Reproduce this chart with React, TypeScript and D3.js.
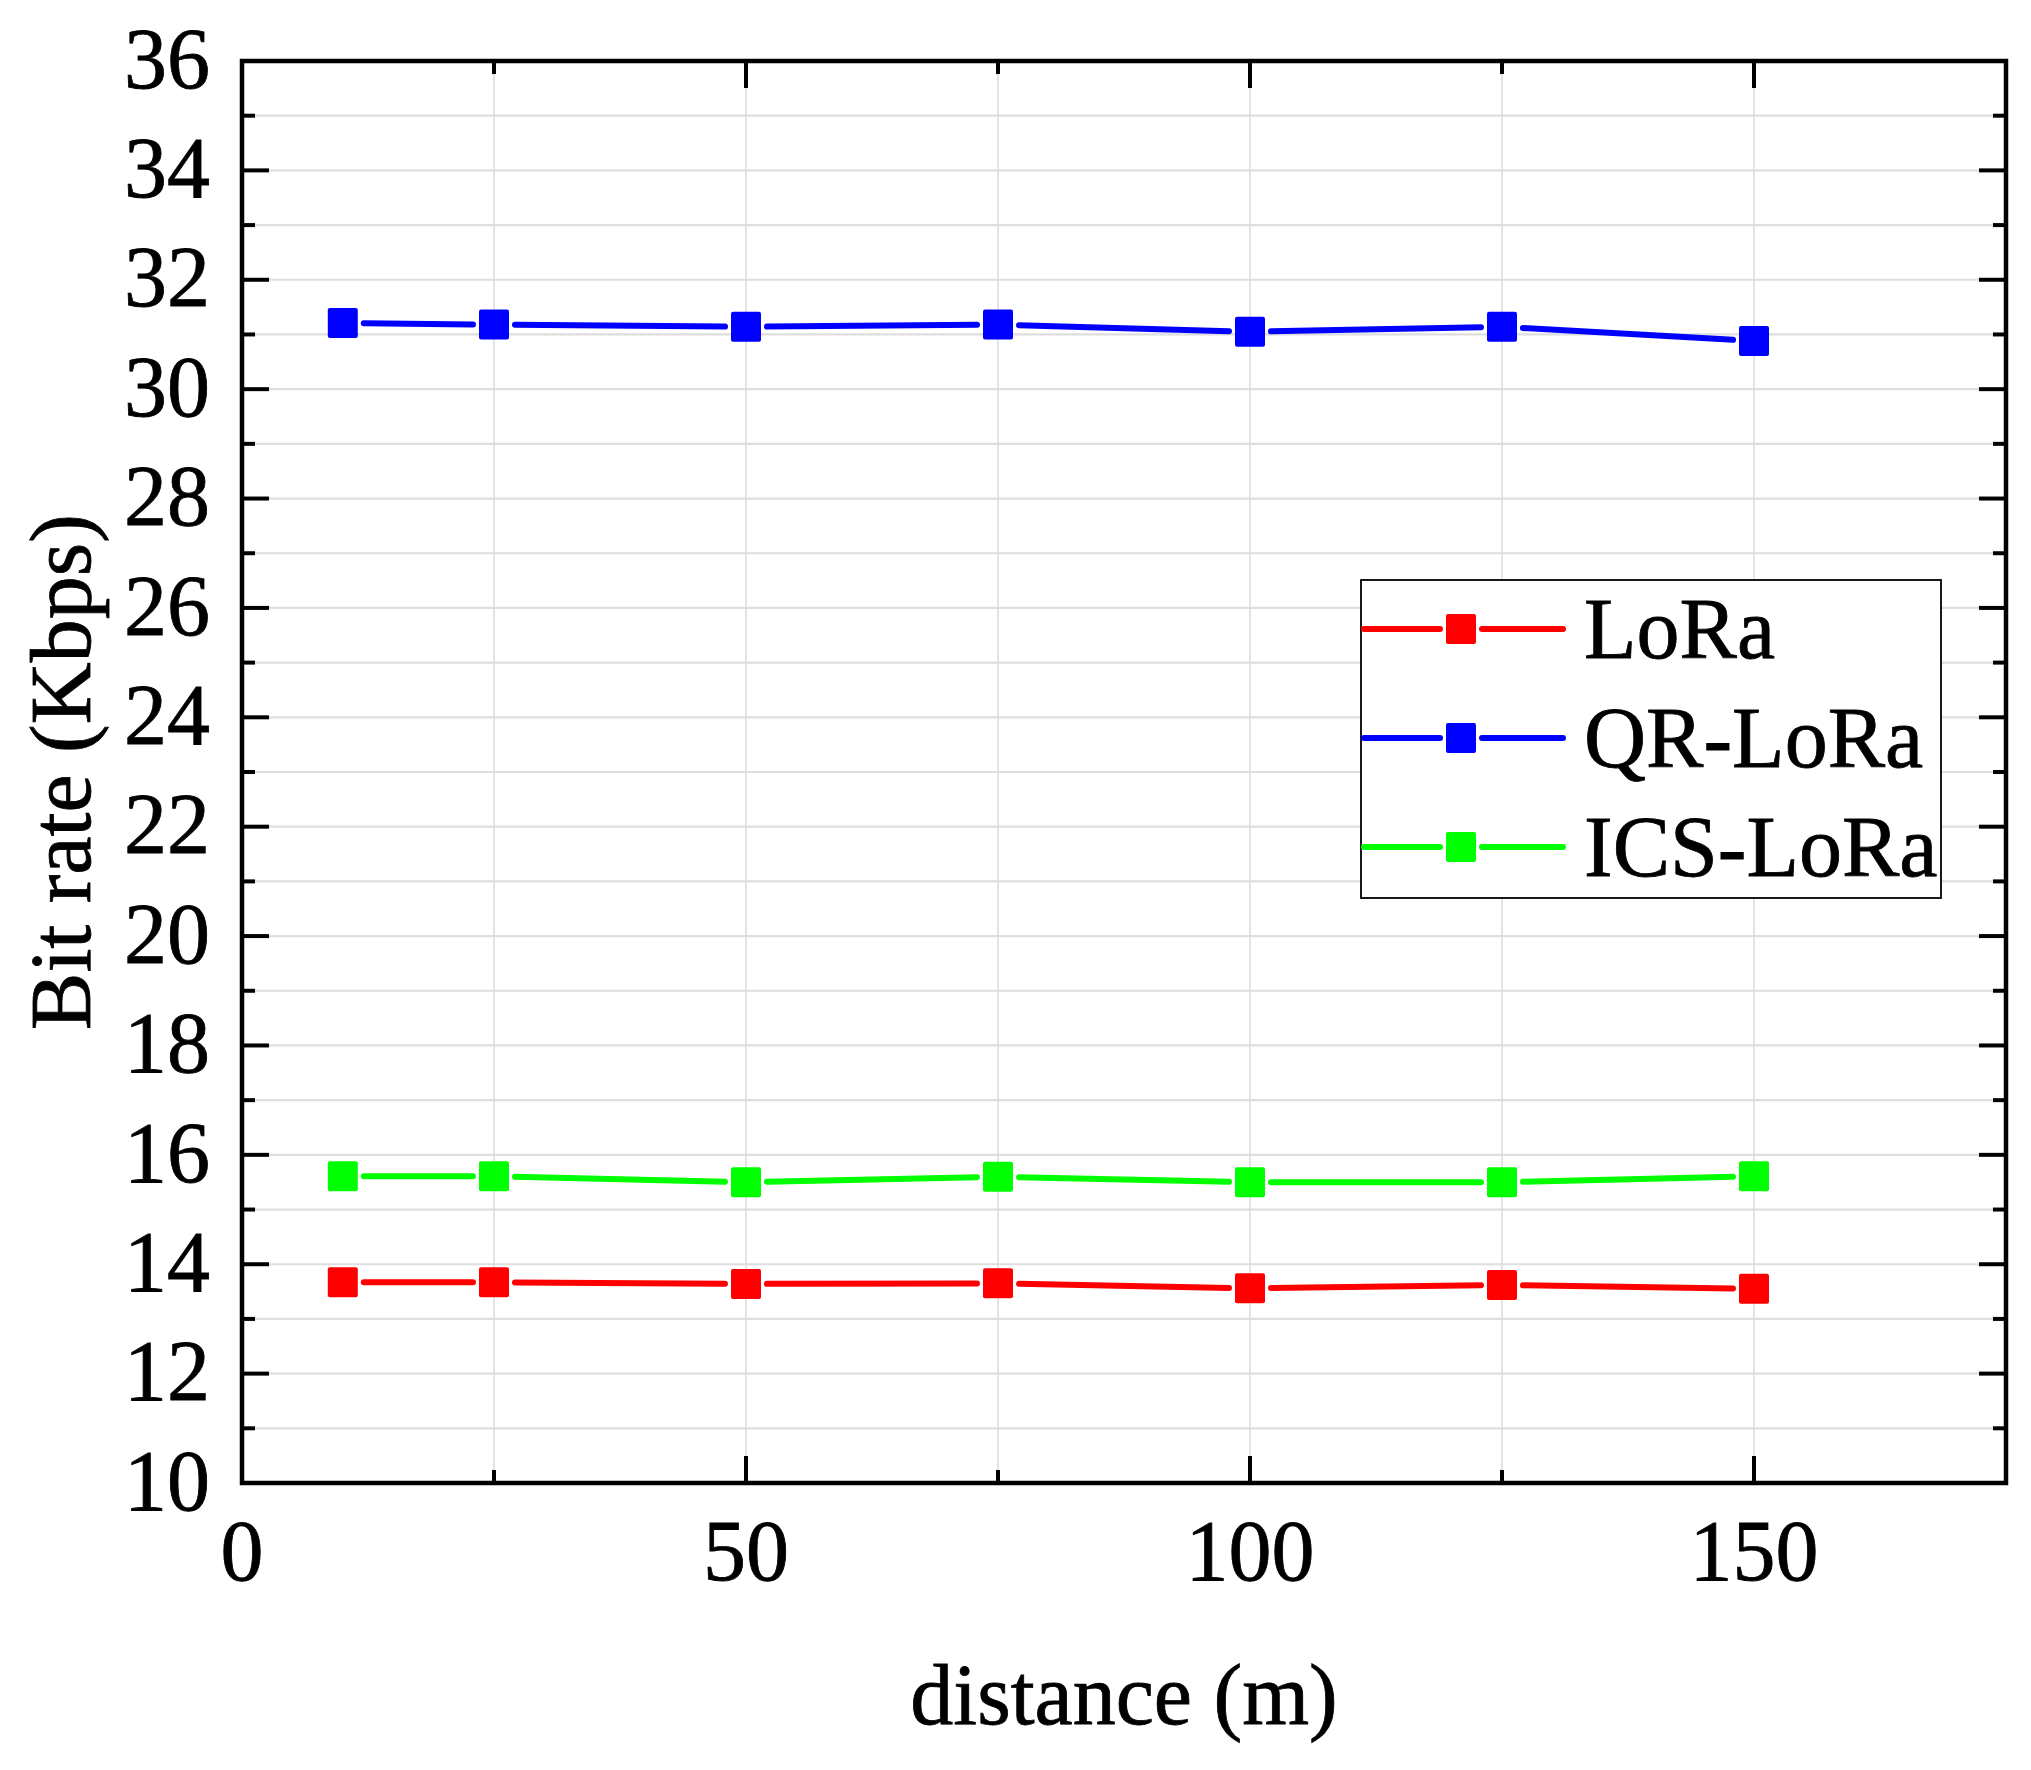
import React from "react";
import * as d3 from "d3";

const distances = [10, 25, 50, 75, 100, 125, 150];
const loraValues = [13.67, 13.67, 13.64, 13.65, 13.56, 13.62, 13.55];
const qrLoraValues = [31.21, 31.18, 31.14, 31.18, 31.05, 31.14, 30.88];
const icsLoraValues = [15.61, 15.61, 15.5, 15.6, 15.5, 15.5, 15.61];
const seriesNames = ["LoRa", "QR-LoRa", "ICS-LoRa"];
const seriesColors = ["#ff0000", "#0000ff", "#00ff00"];
const xMajorTicks = [0, 50, 100, 150];
const xMinorTicks = [25, 75, 125, 175];
const yMajorTicks = [10, 12, 14, 16, 18, 20, 22, 24, 26, 28, 30, 32, 34, 36];
const yMinorTicks = [11, 13, 15, 17, 19, 21, 23, 25, 27, 29, 31, 33, 35];
const xGrid = [25, 50, 75, 100, 125, 150];
const xTitle = "distance (m)";
const yTitle = "Bit rate (Kbps)";

const W = 2031;
const H = 1770;
const L = 242, R = 2006, T = 61, B = 1483;
const FONT = "'Liberation Serif', 'Times New Roman', serif";
const FS = 86;
const MAJ = 27, MIN = 13;
const MS = 30; // marker size
const GAP = 6;
const LW = 6;

export default function App() {
  const x = d3.scaleLinear().domain([0, 175]).range([L, R]);
  const y = d3.scaleLinear().domain([10, 36]).range([B, T]);
  const allSeries = [loraValues, qrLoraValues, icsLoraValues];

  const gridY = d3.range(11, 36, 1);

  const segments = (vals: number[]) => {
    const segs: { x1: number; y1: number; x2: number; y2: number }[] = [];
    for (let i = 0; i < vals.length - 1; i++) {
      const x0 = x(distances[i]), y0 = y(vals[i]);
      const x1 = x(distances[i + 1]), y1 = y(vals[i + 1]);
      const dx = x1 - x0, dy = y1 - y0;
      const len = Math.hypot(dx, dy);
      const ux = dx / len, uy = dy / len;
      const off = MS / 2 + GAP;
      segs.push({ x1: x0 + ux * off, y1: y0 + uy * off, x2: x1 - ux * off, y2: y1 - uy * off });
    }
    return segs;
  };

  // legend
  const legX0 = 1361, legX1 = 1941, legY0 = 580, legY1 = 898;
  const legRows = [629, 738, 847];
  const legLineX0 = 1361, legLineX1 = 1563, legMarkX = 1461, legTextX = 1584;

  return (
    <div style={{ position: "absolute", left: 0, top: 0 }}>
      <svg width={W} height={H} viewBox={`0 0 ${W} ${H}`} style={{ display: "block", background: "#fff" }}>
        <rect x={0} y={0} width={W} height={H} fill="#fff" />
        {/* grid */}
        <g stroke="#dedede">
          {gridY.map((v) => (
            <line key={"gy" + v} x1={L} x2={R} y1={y(v)} y2={y(v)} strokeWidth={2.2} />
          ))}
          {xGrid.map((v) => (
            <line key={"gx" + v} x1={x(v)} x2={x(v)} y1={T} y2={B} strokeWidth={1.6} />
          ))}
        </g>
        {/* series */}
        {allSeries.map((vals, si) => (
          <g key={"s" + si}>
            {segments(vals).map((s, i) => (
              <line key={i} x1={s.x1} y1={s.y1} x2={s.x2} y2={s.y2} stroke={seriesColors[si]} strokeWidth={LW} strokeLinecap="round" />
            ))}
            {vals.map((v, i) => (
              <rect key={"m" + i} x={x(distances[i]) - MS / 2} y={y(v) - MS / 2} width={MS} height={MS} rx={2} fill={seriesColors[si]} />
            ))}
          </g>
        ))}
        {/* ticks */}
        <g stroke="#000" strokeWidth={4}>
          {yMajorTicks.map((v) => (
            <g key={"ym" + v}>
              <line x1={L} x2={L + MAJ} y1={y(v)} y2={y(v)} />
              <line x1={R} x2={R - MAJ} y1={y(v)} y2={y(v)} />
            </g>
          ))}
          {yMinorTicks.map((v) => (
            <g key={"yn" + v}>
              <line x1={L} x2={L + MIN} y1={y(v)} y2={y(v)} />
              <line x1={R} x2={R - MIN} y1={y(v)} y2={y(v)} />
            </g>
          ))}
          {xMajorTicks.map((v) => (
            <g key={"xm" + v}>
              <line x1={x(v)} x2={x(v)} y1={B} y2={B - MAJ} />
              <line x1={x(v)} x2={x(v)} y1={T} y2={T + MAJ} />
            </g>
          ))}
          {xMinorTicks.map((v) => (
            <g key={"xn" + v}>
              <line x1={x(v)} x2={x(v)} y1={B} y2={B - MIN} />
              <line x1={x(v)} x2={x(v)} y1={T} y2={T + MIN} />
            </g>
          ))}
        </g>
        {/* frame */}
        <rect x={L} y={T} width={R - L} height={B - T} fill="none" stroke="#000" strokeWidth={4.5} />
        {/* tick labels */}
        <g fontFamily={FONT} fontSize={FS} fill="#000" stroke="#000" strokeWidth={0.8}>
          {yMajorTicks.map((v) => (
            <text key={"yl" + v} x={210} y={y(v)} dy="0.31em" textAnchor="end">{v}</text>
          ))}
          {xMajorTicks.map((v) => (
            <text key={"xl" + v} x={x(v)} y={1580} textAnchor="middle">{v}</text>
          ))}
          <text x={(L + R) / 2} y={1724} textAnchor="middle">{xTitle}</text>
          <text transform={`translate(90, ${(T + B) / 2}) rotate(-90)`} textAnchor="middle">{yTitle}</text>
        </g>
        {/* legend */}
        <rect x={legX0} y={legY0} width={legX1 - legX0} height={legY1 - legY0} fill="#fff" stroke="#000" strokeWidth={1.8} />
        {seriesNames.map((name, i) => (
          <g key={"lg" + i}>
            <line x1={legLineX0 + 3} x2={legMarkX - MS / 2 - 6} y1={legRows[i]} y2={legRows[i]} stroke={seriesColors[i]} strokeWidth={LW} strokeLinecap="round" />
            <line x1={legMarkX + MS / 2 + 6} x2={legLineX1} y1={legRows[i]} y2={legRows[i]} stroke={seriesColors[i]} strokeWidth={LW} strokeLinecap="round" />
            <rect x={legMarkX - MS / 2} y={legRows[i] - MS / 2} width={MS} height={MS} rx={2} fill={seriesColors[i]} />
            <text x={legTextX} y={legRows[i]} dy="0.34em" fontFamily={FONT} fontSize={FS} fill="#000" stroke="#000" strokeWidth={0.8}>{name}</text>
          </g>
        ))}
      </svg>
    </div>
  );
}
